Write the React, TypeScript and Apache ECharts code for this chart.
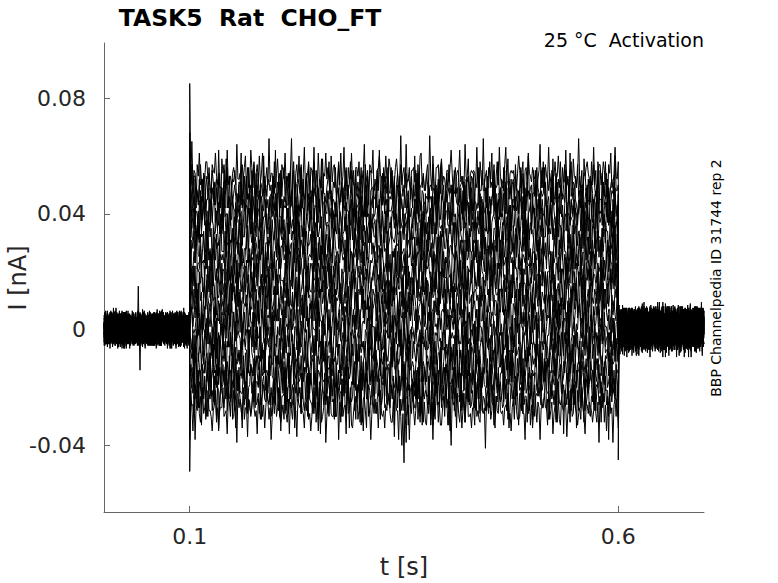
import React, { useEffect, useRef } from "react";
import * as echarts from "echarts";

// ---- data ----
const xTicks = [0.1, 0.6];
const yTicks = [-0.04, 0, 0.04, 0.08];

// pulse level of every trace during the step (nA)
const levels = [0.053, 0.049, 0.045, 0.041, 0.037, 0.033, 0.028, 0.024, 0.019, 0.015, 0.011, 0.006, 0.002, -0.003, -0.007, -0.012, -0.016, -0.020, -0.024, -0.028];
// value reached at the onset transient (t = 0.1 s)
const onsetVals = [0.085, 0.068, 0.062, 0.055, 0.05, 0.045, 0.04, 0.034, 0.028, 0.022, 0.017, 0.011, 0.005, -0.002, -0.008, -0.015, -0.021, -0.028, -0.038, -0.049];
// value reached at the offset transient (t = 0.6 s)
const offsetVals = [0.006, 0.005, 0.004, 0.003, 0.002, 0.002, 0.001, 0.001, 0, 0, -0.001, -0.002, -0.003, -0.005, -0.008, -0.012, -0.017, -0.024, -0.034, -0.045];

// noise seen on the traces during the step (1e-3 nA)
const pulseNoise = [
  2, -1, 9, -3, 1, -2, -8, 3, 0, 6, -2, 1, -10, 2, -1, 4, 8, -3, 0, -2,
  -6, 1, 3, -1, 11, 0, -4, 2, -1, -9, 3, 1, 5, -2, 0, 7, -3, -1, 2, -7,
  1, 4, -2, 0, 10, -1, -3, 2, -8, 1, 0, 3, 6, -2, 1, -5, -1, 9, 0, -3,
  2, -11, 1, 3, -1, 5, 0, -2, 8, -1, -6, 2, 1, -3, 12, 0, -2, 1, -7, 3,
  -1, 0, 6, -4, 2, -9, 1, 3, -1, 7, 0, -2, -5, 1, 2, 10, -3, 0, -8, 1,
  3, -1, 5, -2, 0, -7, 2, 9, -1, -3, 1, 4, -10, 0, 2, -1, 8, -2, 1, -4,
  6, 0, -2, 3, -9, 1, -1, 11, -3, 2, 0, -6, 4, -1, 1, 7, -2, -8, 0, 3,
  -1, 5, -3, 1, 9, -2, 0, -7, 2, 1, -4, 8, -1, 0, -11, 2, 3, -2, 6, -1,
  0, -5, 2, 10, -1, -3, 1, -8, 4, 0, 2, 7, -2, -1, -6, 3, 1, 9, -3, 0,
  -9, 2, 1, 5, -1, -2, 8, 0, -4, 3, -10, 1, 2, 6, -1, -3, 0, 11, -2, 1];
// small extra jitter on top of it (1e-3 nA)
const jitter = [1, -2, 3, 0, -1, 2, -3, 1, 0, 2, -1, -2, 3, -1, 0, 1, -3, 2, 1, -2, 0, 3, -1, 2, -3, 0, 1, -1, 2, -2, 3, 0, -1, 1, -3, 2, 0];
// noise seen before and after the step (1e-3 nA)
const baseNoise = [2, -3, 4, -1, -4, 3, 1, -5, 4, -2, 0, 3, -4, 5, -2, -3, 4, 1, -4, 2,
  -1, 5, -3, 0, -5, 3, 2, -4, 4, -1, -3, 5, -2, 1, -4, 3, -5, 2, 4, -3,
  1, -2, 5, -4, 0, 3, -3, 4, -1, -5, 2, 3, -4, 1, 5, -2, -3, 4, -1, 6];
const postNoise = [3, -5, 6, -2, -6, 4, 1, -7, 5, -3, 0, 4, -5, 7, -2, -4, 6, 2, -6, 3,
  -1, 6, -4, 1, -8, 4, 2, -5, 5, -1, -4, 7, -3, 1, -6, 4, -5, 3, 6, -3,
  1, -2, 8, -5, 0, 4, -4, 5, -1, -6, 3, 4, -5, 1, 6, -3, -4, 5, -2, 3, 7];
const offA = [0, 47, 93, 12, 131, 64, 28, 110, 79, 5, 142, 36, 88, 57, 120, 19, 101, 70, 163, 185];
const offB = [0, 17, 33, 8, 25, 11, 29, 3, 21, 14, 35, 6, 19, 30, 2, 27, 9, 23, 13, 31];
const baseOff = [0, 17, 33, 8, 45, 26, 51, 3, 39, 12, 57, 22, 48, 30, 6, 41, 14, 55, 36, 19];

// isolated excursions visible in single traces
const eventTrace = [0, 1, 19, 19, 18];
const eventTime = [0.04, 0.042, 0.35, 0.347, 0.353];
const eventValue = [0.015, -0.014, -0.046, -0.04, -0.039];

const FONT = "DejaVu Sans";
const PULSE_N = 400;
const SIDE_N = 100;

function buildTrace(i: number): number[][] {
  const pts: number[][] = [];
  const sideStep = 0.1 / SIDE_N;
  const pulseStep = 0.5 / PULSE_N;
  const J = jitter.length;
  for (let k = 0; k <= SIDE_N; k++) {
    const n = baseNoise[(k + baseOff[i]) % baseNoise.length] + jitter[(k + offB[i]) % J] * 0.5;
    pts.push([k * sideStep, n * 0.001]);
  }
  pts.push([0.1, onsetVals[i]]);
  for (let k = 1; k <= PULSE_N; k++) {
    const n = pulseNoise[(k + offA[i]) % pulseNoise.length] + jitter[(k + offB[i]) % J];
    pts.push([0.1 + k * pulseStep, levels[i] + n * 0.001]);
  }
  pts.push([0.6, offsetVals[i]]);
  for (let k = 1; k <= SIDE_N; k++) {
    const n = postNoise[(k + baseOff[i]) % postNoise.length] + jitter[(k + offB[i] + 5) % J] * 0.5;
    pts.push([0.6 + k * sideStep, n * 0.001]);
  }
  for (let e = 0; e < eventTrace.length; e++) {
    if (eventTrace[e] !== i) continue;
    let best = 0;
    for (let p = 1; p < pts.length; p++) {
      if (Math.abs(pts[p][0] - eventTime[e]) < Math.abs(pts[best][0] - eventTime[e])) best = p;
    }
    pts[best] = [pts[best][0], eventValue[e]];
  }
  return pts;
}

export default function App() {
  const ref = useRef<HTMLDivElement>(null);
  useEffect(() => {
    document.body.style.margin = "0";
    const chart = echarts.init(ref.current!, null, { renderer: "svg" });
    const series = levels.map((_, i) => ({
      type: "line",
      data: buildTrace(i),
      symbol: "none",
      silent: true,
      lineStyle: { color: "#000", width: 1 },
      emphasis: { disabled: true },
    }));
    chart.setOption({
      animation: false,
      backgroundColor: "#fff",
      grid: { left: 104, top: 43, width: 600, height: 469 },
      xAxis: {
        type: "value",
        min: 0,
        max: 0.7,
        axisLine: { show: true, onZero: false, lineStyle: { color: "#666", width: 1 } },
        axisTick: { show: true, inside: true, length: 6, customValues: xTicks, lineStyle: { color: "#666" } },
        axisLabel: { customValues: xTicks, formatter: (v: number) => String(v), fontSize: 22, color: "#262626", margin: 13, fontFamily: FONT },
        splitLine: { show: false },
      },
      yAxis: {
        type: "value",
        min: -0.063,
        max: 0.099,
        axisLine: { show: true, onZero: false, lineStyle: { color: "#666", width: 1 } },
        axisTick: { show: true, inside: true, length: 6, customValues: yTicks, lineStyle: { color: "#666" } },
        axisLabel: { customValues: yTicks, formatter: (v: number) => (v === 0 ? "0" : String(v)), fontSize: 22, color: "#262626", margin: 18, fontFamily: FONT },
        splitLine: { show: false },
      },
      graphic: [
        { type: "text", x: 250, y: 18, style: { text: "TASK5  Rat  CHO_FT", fill: "#000", font: `bold 23.5px '${FONT}'`, align: "center", verticalAlign: "middle" } },
        { type: "text", x: 704, y: 40, style: { text: "25 °C  Activation", fill: "#000", font: `19px '${FONT}'`, align: "right", verticalAlign: "middle" } },
        { type: "text", x: 716, y: 278, rotation: Math.PI / 2, style: { text: "BBP Channelpedia ID 31744 rep 2", fill: "#000", font: `14px '${FONT}'`, align: "center", verticalAlign: "middle" } },
        { type: "text", x: 18, y: 278, rotation: Math.PI / 2, style: { text: "I [nA]", fill: "#262626", font: `24px '${FONT}'`, align: "center", verticalAlign: "middle" } },
        { type: "text", x: 404, y: 567, style: { text: "t [s]", fill: "#262626", font: `24px '${FONT}'`, align: "center", verticalAlign: "middle" } },
      ],
      series,
    });
    return () => chart.dispose();
  }, []);
  return <div ref={ref} style={{ width: 778, height: 583 }} />;
}
